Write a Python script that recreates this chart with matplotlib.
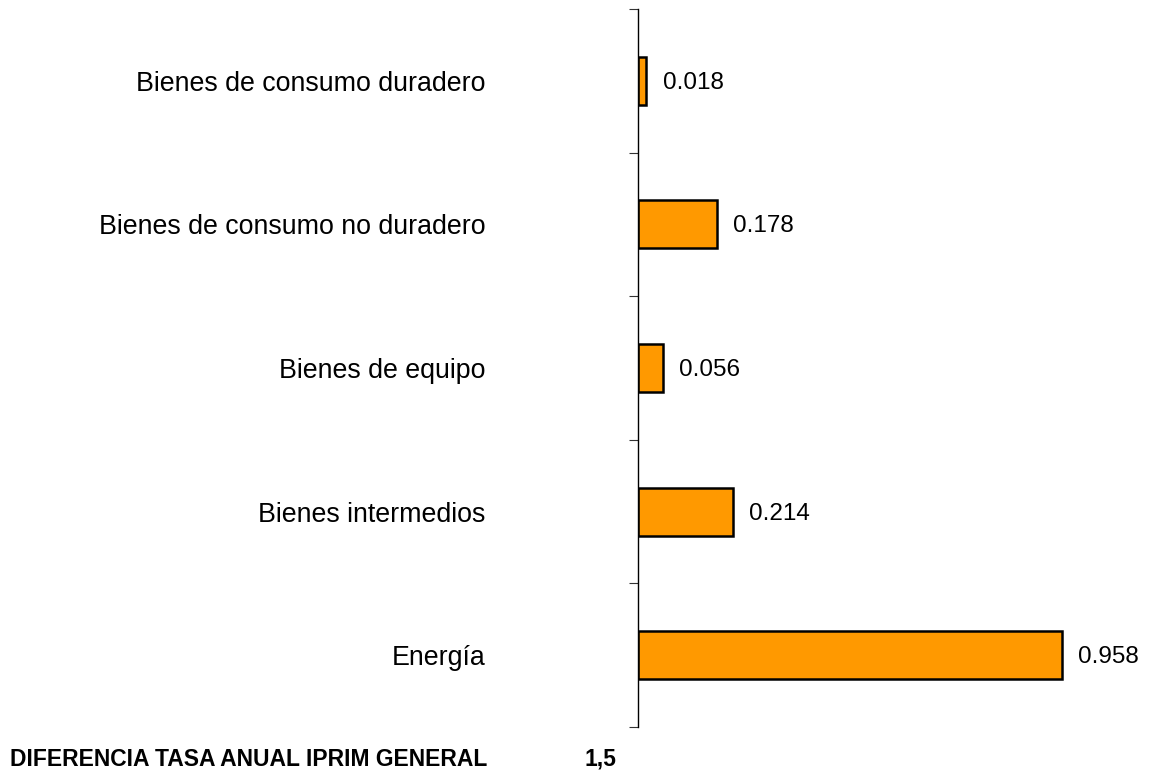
import numpy as np
import matplotlib.pyplot as plt

plt.rcParams['font.family'] = ['Liberation Sans', 'DejaVu Sans']

categories = ['Bienes de consumo duradero', 'Bienes de consumo no duradero',
              'Bienes de equipo', 'Bienes intermedios', 'Energía']
values = [0.018, 0.178, 0.056, 0.214, 0.958]
footer_label = 'DIFERENCIA TASA ANUAL IPRIM GENERAL'
footer_value = '1,5'

fig = plt.figure(figsize=(11.62, 7.76), dpi=100)
ax = fig.add_axes([638 / 1162, 1 - 727 / 776, (1160 - 638) / 1162, (727 - 9) / 776])

y = np.arange(len(categories))
ax.barh(y, values, height=0.335, color='#FF9900', edgecolor='black', linewidth=1.8)

for yi, v in zip(y, values):
    ax.annotate(f'{v:.3f}', (v, yi), xytext=(12, -1.5), textcoords='offset points',
                va='center', ha='left', fontsize=17.5)

ax.set_xlim(0, 1.18)
ax.set_ylim(len(categories) - 0.5, -0.5)

ax.set_yticks(y)
ax.set_yticklabels(categories, fontsize=19.3)
ax.tick_params(axis='y', which='major', length=0, pad=110)
ax.set_yticks(np.arange(len(categories) + 1) - 0.5, minor=True)
ax.tick_params(axis='y', which='minor', length=6.5, width=0.8, color='#333333', direction='out')
ax.set_xticks([])

for s in ['top', 'right', 'bottom']:
    ax.spines[s].set_visible(False)
ax.spines['left'].set_linewidth(1.0)

fig.text(10 / 1162, 1 - 759 / 776, footer_label, fontsize=16.5, fontweight='bold', va='center')
fig.text(584 / 1162, 1 - 759 / 776, footer_value, fontsize=16.5, fontweight='bold', va='center')

fig.savefig('out.png', dpi=100)
